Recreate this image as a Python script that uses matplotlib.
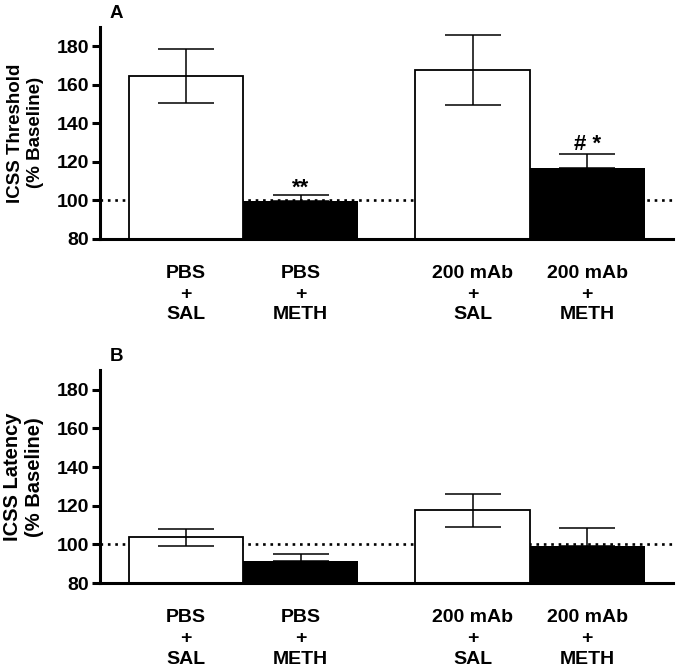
import numpy as np
import matplotlib
matplotlib.use("Agg")
import matplotlib.pyplot as plt

plt.rcParams['font.family'] = ['Liberation Sans', 'DejaVu Sans']
plt.rcParams['font.weight'] = 'bold'

# группы и значения
groups = ['PBS\n+\nSAL', 'PBS\n+\nMETH', '200 mAb\n+\nSAL', '200 mAb\n+\nMETH']
bar_colors = ['white', 'black', 'white', 'black']

threshold_mean = [164.5, 99.5, 167.7, 117.0]
threshold_sem = [13.8, 3.1, 18.2, 6.8]
threshold_marks = ['', '**', '', '# *']

latency_mean = [103.6, 91.5, 117.7, 99.0]
latency_sem = [4.4, 3.4, 8.5, 9.6]
latency_marks = ['', '', '', '']

positions = [0, 1, 2.5, 3.5]


def draw_panel(ax, means, sems, marks, ylabel, ylabel_size, letter):
    ax.axhline(100, color='black', ls=(0, (1, 1.8)), lw=1.9, zorder=1)
    for x, m, s, c, mk in zip(positions, means, sems, bar_colors, marks):
        ax.bar(x, m - 80, bottom=80, width=1.0, color=c, edgecolor='black',
               lw=1.3 if c == 'white' else 0, zorder=2)
        # ошибка: у чёрных столбцов только верхняя часть
        lo = s if c == 'white' else 0
        ax.errorbar(x, m, yerr=[[lo], [s]], fmt='none', ecolor='black',
                    elinewidth=1.1, capsize=20.5, capthick=1.1, zorder=3)
        if mk:
            off = 2.5 if '#' in mk else 1.0
            ax.text(x, m + s + off, mk, ha='center', va='baseline',
                    fontsize=16, fontweight='bold')
    ax.set_xlim(-0.75, 4.25)
    ax.set_ylim(80, 190)
    ax.set_yticks([80, 100, 120, 140, 160, 180])
    ax.set_xticks(positions)
    ax.set_xticklabels(groups, fontsize=14, fontweight='bold', linespacing=1.27)
    ax.tick_params(axis='x', length=0, pad=19)
    ax.tick_params(axis='y', length=6, width=2.2, labelsize=14, pad=2)
    for lab in ax.get_yticklabels():
        lab.set_fontweight('bold')
    for side in ['top', 'right']:
        ax.spines[side].set_visible(False)
    for side in ['left', 'bottom']:
        ax.spines[side].set_linewidth(2.2)
    ax.set_ylabel(ylabel, fontsize=ylabel_size, fontweight='bold',
                  linespacing=1.2)
    ax.yaxis.set_label_coords(-0.098, 0.5)
    ax.text(0.017, 1.042, letter, transform=ax.transAxes, fontsize=13.5,
            fontweight='bold', ha='left', va='baseline')


fig = plt.figure(figsize=(6.76, 6.71), dpi=100)
ax1 = fig.add_axes([0.148, 0.644, 0.848, 0.316])
ax2 = fig.add_axes([0.148, 0.131, 0.848, 0.317])

draw_panel(ax1, threshold_mean, threshold_sem, threshold_marks,
           'ICSS Threshold\n(% Baseline)', 13.5, 'A')
draw_panel(ax2, latency_mean, latency_sem, latency_marks,
           'ICSS Latency\n(% Baseline)', 14.5, 'B')

fig.savefig('out.png', dpi=100)
